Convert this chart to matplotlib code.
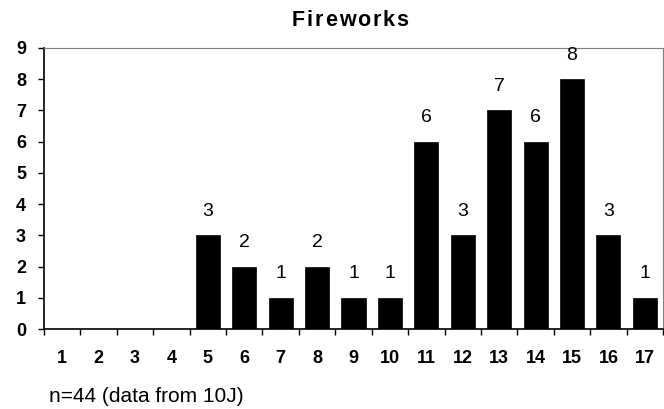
import matplotlib.pyplot as plt
import numpy as np

plt.rcParams['font.family'] = ['Liberation Sans', 'DejaVu Sans']

categories = list(range(1, 18))
counts = [0, 0, 0, 0, 3, 2, 1, 2, 1, 1, 6, 3, 7, 6, 8, 3, 1]
title = "Fireworks"
note = "n=44 (data from 10J)"

fig = plt.figure(figsize=(6.64, 4.09), dpi=100)
ax = fig.add_axes([44 / 664, 80 / 409, 619 / 664, 281 / 409])

x = np.arange(len(categories))
ax.bar(x, counts, width=0.66, color='black', edgecolor='black', linewidth=0.5)

# value labels above the non-empty bars
for xi, v in zip(x, counts):
    if v > 0:
        ax.annotate(str(v), (xi, v), xytext=(0, 14), textcoords='offset points',
                    ha='center', va='baseline', fontsize=14)

ax.set_xlim(-0.5, len(categories) - 0.5)
ax.set_ylim(0, 9)
ax.set_yticks(range(0, 10))
ax.set_xticks(x)
ax.set_xticklabels([str(c) for c in categories], fontweight='bold', fontsize=13)
ax.set_xticks(np.arange(-0.5, len(categories)), minor=True)
ax.tick_params(axis='x', which='major', length=0, pad=15)
ax.tick_params(axis='x', which='minor', length=4, width=1, direction='out')
ax.tick_params(axis='y', length=4, width=1, direction='out', pad=9)
for lab in ax.get_yticklabels():
    lab.set_fontweight('bold')
    lab.set_fontsize(13)

ax.spines['left'].set_color('black')
ax.spines['bottom'].set_color('black')
ax.spines['left'].set_linewidth(1.2)
ax.spines['bottom'].set_linewidth(1.2)
ax.spines['top'].set_color('#808080')
ax.spines['right'].set_color('#808080')

# title with wide letter spacing, one character at a time
renderer = fig.canvas.get_renderer()
spacing = 1.8
pieces = []
total = 0
for ch in title:
    t = fig.text(0, 0, ch, fontsize=15.5, fontweight='bold', va='baseline')
    w = t.get_window_extent(renderer).width
    pieces.append((t, w))
    total += w
total += spacing * (len(title) - 1)
xpos = 350 - total / 2
for t, w in pieces:
    t.set_position((xpos / 664, 1 - 25.5 / 409))
    xpos += w + spacing

fig.text(49 / 664, 1 - 397 / 409, note, ha='left', va='center', fontsize=15)

fig.savefig('out.png', dpi=100)
